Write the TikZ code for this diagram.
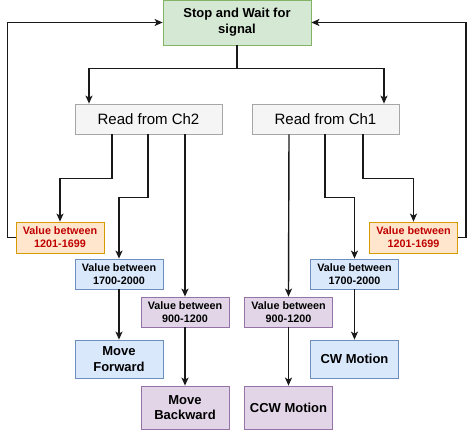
\documentclass[tikz,border=0pt]{standalone}
\usepackage{fontspec}
\setmainfont{Liberation Sans}
\usepackage{tikz}
\usepackage{xcolor}
\usetikzlibrary{positioning, arrows.meta}

\definecolor{greenfill}{HTML}{D5E8D4}
\definecolor{greenline}{HTML}{82B366}
\definecolor{grayfill}{HTML}{F5F5F5}
\definecolor{grayline}{HTML}{A6A6A6}
\definecolor{orangefill}{HTML}{FFE6CC}
\definecolor{orangeline}{HTML}{D79B00}
\definecolor{bluefill}{HTML}{DAE8FC}
\definecolor{blueline}{HTML}{6C8EBF}
\definecolor{purplefill}{HTML}{E1D5E7}
\definecolor{purpleline}{HTML}{9673A6}
\definecolor{redtext}{HTML}{C00000}

\begin{document}
\begin{tikzpicture}[x=1pt, y=-1pt,
    box/.style={draw, line width=0.8pt, inner sep=0pt, align=center},
    valbox/.style={box, minimum width=88pt, minimum height=30pt, font=\fontsize{10.8}{13}\selectfont\bfseries},
    endbox/.style={box, minimum width=88pt, font=\fontsize{13}{15.5}\selectfont\bfseries},
    arr/.style={line width=1.4pt, draw=black!90, -{Stealth[length=8pt, width=7pt, inset=2pt]}}]
    \useasboundingbox (0,0) rectangle (474,432);

    % top and channel nodes
    \node [box, fill=greenfill, draw=greenline, minimum width=148pt, minimum height=45pt,
           font=\fontsize{13}{16}\selectfont\bfseries] (stop) at (237,22.5) {Stop and Wait for\\signal};
    \node [box, fill=grayfill, draw=grayline, minimum width=147pt, minimum height=30pt,
           font=\fontsize{15}{17}\selectfont] (ch2) at (148.5,119) {Read from Ch2};
    \node [box, fill=grayfill, draw=grayline, minimum width=147pt, minimum height=30pt,
           font=\fontsize{15}{17}\selectfont] (ch1) at (325.5,119) {Read from Ch1};

    % value nodes
    \node [valbox, fill=orangefill, draw=orangeline, text=redtext, minimum height=31pt] (midL) at (60,237.5) {Value between\\1201-1699};
    \node [valbox, fill=orangefill, draw=orangeline, text=redtext, minimum height=31pt] (midR) at (413.5,237.5) {Value between\\1201-1699};
    \node [valbox, fill=bluefill, draw=blueline] (highL) at (119,274) {Value between\\1700-2000};
    \node [valbox, fill=bluefill, draw=blueline] (highR) at (354.5,274) {Value between\\1700-2000};
    \node [valbox, fill=purplefill, draw=purpleline] (lowL) at (185,312) {Value between\\900-1200};
    \node [valbox, fill=purplefill, draw=purpleline] (lowR) at (288.5,312) {Value between\\900-1200};

    % motion nodes
    \node [endbox, fill=bluefill, draw=blueline, minimum height=38pt] (fwd) at (119,359) {Move\\Forward};
    \node [endbox, fill=purplefill, draw=purpleline, minimum height=43pt] (bwd) at (185,407.5) {Move\\Backward};
    \node [endbox, fill=purplefill, draw=purpleline, minimum height=43pt] (ccw) at (288.5,407.5) {CCW Motion};
    \node [endbox, fill=bluefill, draw=blueline, minimum height=38pt] (cw) at (354.5,359) {CW Motion};

    % from the top node
    \draw [arr] (stop.south) -- ++(0,23) -| ([xshift=-59.5pt]ch2.north);
    \draw [arr] (stop.south) -- ++(0,23) -| ([xshift=58.5pt]ch1.north);

    % Ch2 branches
    \draw [arr] ([xshift=-36.5pt]ch2.south) -- ++(0,44) -| (midL.north);
    \draw [arr] ([xshift=-0.5pt]ch2.south) -- ++(0,63) -| (highL.north);
    \draw [arr] ([xshift=36.5pt]ch2.south) -- (lowL.north);

    % Ch1 branches
    \draw [arr] ([xshift=-36.5pt]ch1.south) -- (lowR.north);
    \draw [arr] ([xshift=-0.5pt]ch1.south) -- ++(0,63) -| (highR.north);
    \draw [arr] ([xshift=37.5pt]ch1.south) -- ++(0,44) -| (midR.north);

    % results
    \draw [arr] (highL) -- (fwd);
    \draw [arr] (lowL) -- (bwd);
    \draw [arr] (lowR) -- (ccw);
    \draw [arr] (highR) -- (cw);

    % back to waiting
    \draw [arr] (midL.west) -- ++(-8,0) |- (stop.west);
    \draw [arr] (midR.east) -- ++(8,0) |- (stop.east);
\end{tikzpicture}
\end{document}
